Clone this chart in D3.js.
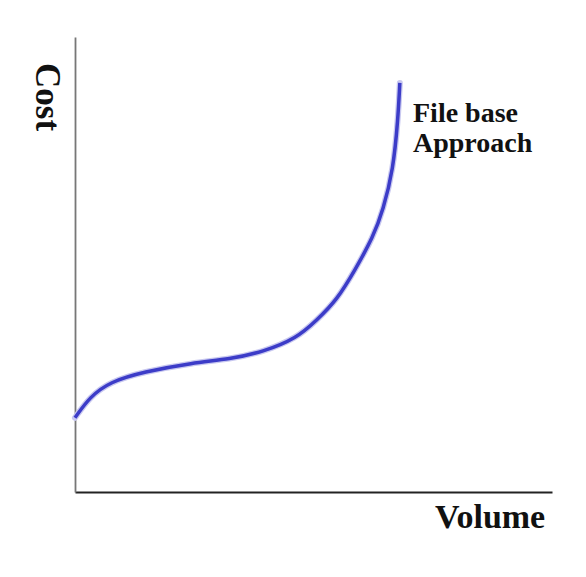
<!DOCTYPE html>
<html lang="en">
<head>
    <meta charset="utf-8">
    <title>File base Approach</title>
    <style>
        body {
            margin: 0;
            background: #fff;
        }

        .label {
            font-family: "Liberation Serif", "Times New Roman", serif;
            font-weight: bold;
            fill: #111;
        }
    </style>
</head>
<body>
<svg class="chart"></svg>
<script src="https://d3js.org/d3.v7.min.js"></script>
<script>

  const width = 586;
  const height = 577;

  // curve (volume 0..100, cost 0..100)
  const volume = [0, 3.1, 7.3, 14.3, 24.7, 32.5, 39.4, 46.5, 50.7, 54.9, 58.7, 62.5, 64.6, 66.7, 67.7, 68.1];
  const cost = [16.3, 20.9, 24.2, 26.4, 28.4, 29.2, 30.8, 33.8, 37.8, 42.2, 48.8, 56.0, 62.0, 70.8, 81.8, 89.9];

  const seriesName = ["File base", "Approach"];
  const xTitle = "Volume";
  const yTitle = "Cost";

  const margin = {left: 75, right: 34, top: 37, bottom: 85};

  const x = d3.scaleLinear()
    .domain([0, 100])
    .range([margin.left, width - margin.right]);

  const y = d3.scaleLinear()
    .domain([0, 100])
    .range([height - margin.bottom, margin.top]);

  const svg = d3.select(".chart")
    .attr("width", width)
    .attr("height", height);

  // axes are just bare lines
  svg.append("g")
    .attr("transform", `translate(0,${height - margin.bottom})`)
    .call(d3.axisBottom(x).ticks(0).tickSizeOuter(0))
    .select(".domain")
    .attr("stroke", "#222")
    .attr("stroke-width", 1.8);

  svg.append("g")
    .attr("transform", `translate(${margin.left},0)`)
    .call(d3.axisLeft(y).ticks(0).tickSizeOuter(0))
    .select(".domain")
    .attr("stroke", "#777")
    .attr("stroke-width", 1.8);

  const points = volume.map((v, i) => [v, cost[i]]);

  // basis smooths out small reading errors
  const line = d3.line()
    .x(d => x(d[0]))
    .y(d => y(d[1]))
    .curve(d3.curveBasis);

  // soft halo under the line
  svg.append("path")
    .datum(points)
    .attr("d", line)
    .attr("fill", "none")
    .attr("stroke", "#c8c8f0")
    .attr("stroke-width", 6)
    .attr("stroke-linecap", "round");

  svg.append("path")
    .datum(points)
    .attr("d", line)
    .attr("fill", "none")
    .attr("stroke", "#3c3cc8")
    .attr("stroke-width", 3.5)
    .attr("stroke-linecap", "butt");

  // series label beside the top of the curve
  svg.append("text")
    .attr("class", "label")
    .attr("x", 413)
    .attr("y", 122)
    .style("font-size", "28px")
    .selectAll("tspan")
    .data(seriesName)
    .enter()
    .append("tspan")
    .attr("x", 413)
    .attr("dy", (d, i) => i ? 30 : 0)
    .text(d => d);

  svg.append("text")
    .attr("class", "label")
    .attr("x", 435)
    .attr("y", 528)
    .style("font-size", "34px")
    .text(xTitle);

  svg.append("text")
    .attr("class", "label")
    .attr("transform", "translate(36,63) rotate(90)")
    .style("font-size", "35px")
    .text(yTitle);

</script>

</body>
</html>
